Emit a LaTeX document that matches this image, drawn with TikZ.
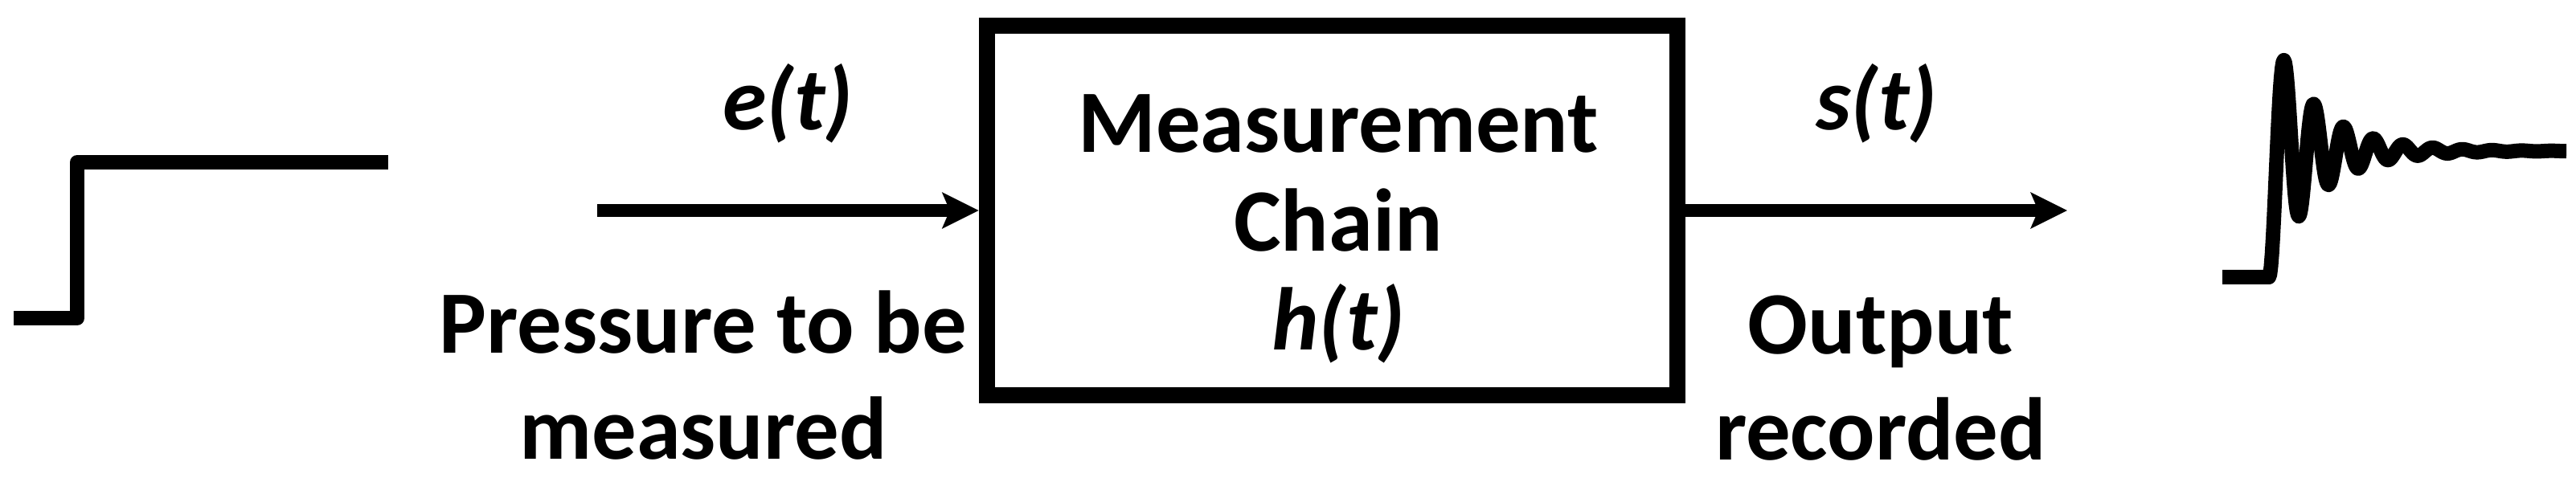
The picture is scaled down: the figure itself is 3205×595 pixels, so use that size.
\documentclass[tikz,border=0pt]{standalone}
\usepackage{fontspec}
\setmainfont{Carlito}
\usepackage{tikz}
\usetikzlibrary{arrows.meta,calc,positioning}
\tikzset{%
	block/.style    = {draw, rectangle, line width=0.2cm, inner sep=0pt, minimum width=8.59cm, minimum height=4.6cm}, % Chain box
	txt/.style      = {align=center, inner sep=0pt, font=\fontsize{31.5}{35}\selectfont\bfseries}, % Text in box
	sig/.style      = {inner sep=0pt, anchor=base, font=\fontsize{31.5}{35}\selectfont\bfseries\itshape}, % Signal name
	descr/.style    = {align=center, inner sep=0pt, anchor=north, font=\fontsize{31.5}{37.5}\selectfont\bfseries}, % Under arrow
	wave/.style     = {line width=0.18cm, line join=round}, % Signal shape
	waypoint/.style = {coordinate},
}
\begin{document}
\begin{tikzpicture}[x=0.01cm, y=-0.01cm, line width=0.16cm, >={Stealth[length=0.45cm, width=0.44cm, inset=0.09cm]}]
		\useasboundingbox (0,0) rectangle (3205,595);
		\node[block] (chain) at (1657.5,262) {};
		\node[txt, anchor=north] (chaintxt) at (1665,110) {Measurement\\Chain\\\textit{h(t)}};
		\node[waypoint] (in) at (743,262) {};
		\node[waypoint] (out) at (2572,262) {};
		\draw[->] (in) -- (chain);
		\draw[->] (chain) -- (out);
		\node[sig] (e) at ($(in)!0.5!(chain.west)+(0,-100)$) {e(t)};
		\node[sig] (s) at ($(chain.east)!0.5!(out)+(0,-100)$) {s(t)};
		\node[descr] (press) at (875,354) {Pressure to be\\measured};
		\node[descr] (rec) at (2340,360) {Output\\recorded};
		% step input
		\draw[wave] (17,396) -| (96,202) -- (483,202);
		% damped response
		\draw[wave] (2765,345) -- (2823,345) -- plot[domain=0:370, samples=300] ({2823+\x}, {345-157*(1-exp(-0.01776*\x)*(cos(9.73*\x)+0.1046*sin(9.73*\x)))});
		
\end{tikzpicture}
\end{document}
